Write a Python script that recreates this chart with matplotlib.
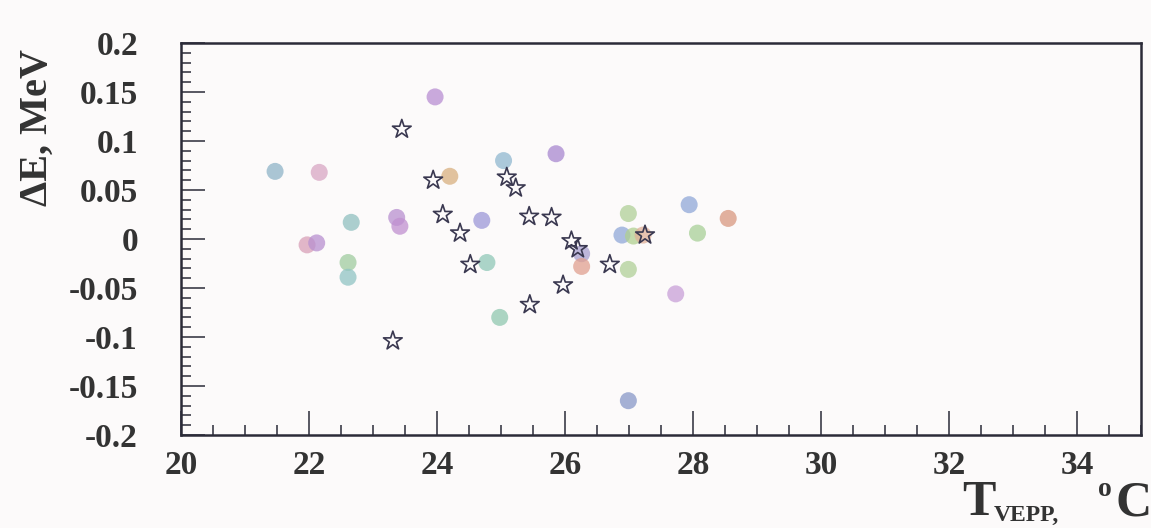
import matplotlib
matplotlib.use("Agg")
import matplotlib.pyplot as plt
from matplotlib.ticker import MultipleLocator, FixedLocator

# measured points (filled circles)
circle_t = [21.47, 22.16, 23.97, 24.20, 23.37, 23.42, 22.66, 21.97, 22.12,
            22.61, 22.61, 25.04, 25.86, 24.70, 26.99, 26.89, 27.07, 27.22,
            27.94, 28.55, 28.07, 24.78, 26.26, 26.26, 26.99, 24.98, 26.99,
            27.73]
circle_de = [0.069, 0.068, 0.145, 0.064, 0.022, 0.013, 0.017, -0.006, -0.004,
             -0.024, -0.039, 0.080, 0.087, 0.019, 0.026, 0.004, 0.003, 0.004,
             0.035, 0.021, 0.006, -0.024, -0.015, -0.028, -0.031, -0.080,
             -0.165, -0.056]

# second series (open stars)
star_t = [23.45, 23.94, 24.09, 25.09, 25.23, 25.44, 25.79, 24.36, 26.10,
          26.20, 24.52, 26.70, 25.97, 25.45, 23.31, 27.25]
star_de = [0.112, 0.060, 0.025, 0.063, 0.052, 0.023, 0.022, 0.006, -0.002,
           -0.010, -0.026, -0.026, -0.047, -0.067, -0.104, 0.004]

x_ticks = [20, 22, 24, 26, 28, 30, 32, 34]
y_ticks = [0.2, 0.15, 0.1, 0.05, 0, -0.05, -0.1, -0.15, -0.2]
y_tick_labels = ["0.2", "0.15", "0.1", "0.05", "0", "-0.05", "-0.1", "-0.15", "-0.2"]

# halftone-ish tints seen in the scan
circle_colors = ["#8fb4c8", "#d8a6c4", "#b88ed2", "#d8b080", "#b890d0", "#c090d0",
                 "#90c0c0", "#d8a0b8", "#b890d0", "#a0cca0", "#90c4c4", "#90b8d0",
                 "#a888d0", "#9c98d8", "#b0d098", "#90a8d8", "#b0d090", "#e0b098",
                 "#90a8d8", "#d89880", "#a8d098", "#90c8b8", "#a8a0d0", "#e0a090",
                 "#b0d098", "#90c8b0", "#8898c8", "#c8a0d8"]

serif = ["Liberation Serif", "DejaVu Serif"]
ink = "#2b2b38"
txt = "#333333"

fig = plt.figure(figsize=(11.51, 5.28), dpi=100, facecolor="#fcfafa")
ax = fig.add_axes([181 / 1151, 1 - 435 / 528, 960 / 1151, 392 / 528])
ax.set_facecolor("#fcfafa")

ax.scatter(circle_t, circle_de, s=150, c=circle_colors, edgecolors="none",
           alpha=0.75, zorder=2)
ax.scatter(star_t, star_de, s=200, marker="*", facecolors="none",
           edgecolors="#3a3850", linewidths=1.2, zorder=3)

ax.set_xlim(20, 35)
ax.set_ylim(-0.2, 0.2)
ax.xaxis.set_major_locator(FixedLocator(x_ticks))
ax.xaxis.set_minor_locator(MultipleLocator(0.5))
ax.yaxis.set_major_locator(FixedLocator(y_ticks))
ax.yaxis.set_minor_locator(MultipleLocator(0.01))
ax.set_xticklabels([str(t) for t in x_ticks])
ax.set_yticklabels(y_tick_labels)

ax.tick_params(which="both", direction="in", top=False, right=False, colors=ink)
ax.tick_params(which="major", length=17, width=1.1)
ax.tick_params(which="minor", length=7, width=1.1)
ax.tick_params(axis="y", which="major", pad=31)
ax.tick_params(axis="x", which="major", pad=11)
for lab in ax.get_xticklabels() + ax.get_yticklabels():
    lab.set_fontfamily(serif)
    lab.set_fontweight("bold")
    lab.set_fontsize(24)
    lab.set_color(txt)

for sp in ax.spines.values():
    sp.set_color(ink)
    sp.set_linewidth(1.8)

fig.text(37 / 1151, 1 - 128 / 528, "ΔE, MeV", rotation=90, ha="center",
         va="center", fontsize=29, fontweight="bold", family=serif, color=txt)

# x axis label pieces: T, subscript VEPP, superscript o, C
fig.text(962 / 1151, 1 - 515 / 528, "T", fontsize=36, fontweight="bold",
         family=serif, color=txt, va="baseline", ha="left")
fig.text(994 / 1151, 1 - 521 / 528, "VEPP,", fontsize=17, fontweight="bold",
         family=serif, color=txt, va="baseline", ha="left")
fig.text(1098 / 1151, 1 - 496 / 528, "o", fontsize=20, fontweight="bold",
         family=serif, color=txt, va="baseline", ha="left")
fig.text(1116 / 1151, 1 - 515 / 528, "C", fontsize=36, fontweight="bold",
         family=serif, color=txt, va="baseline", ha="left")

fig.savefig("out.png", dpi=100, facecolor=fig.get_facecolor())
